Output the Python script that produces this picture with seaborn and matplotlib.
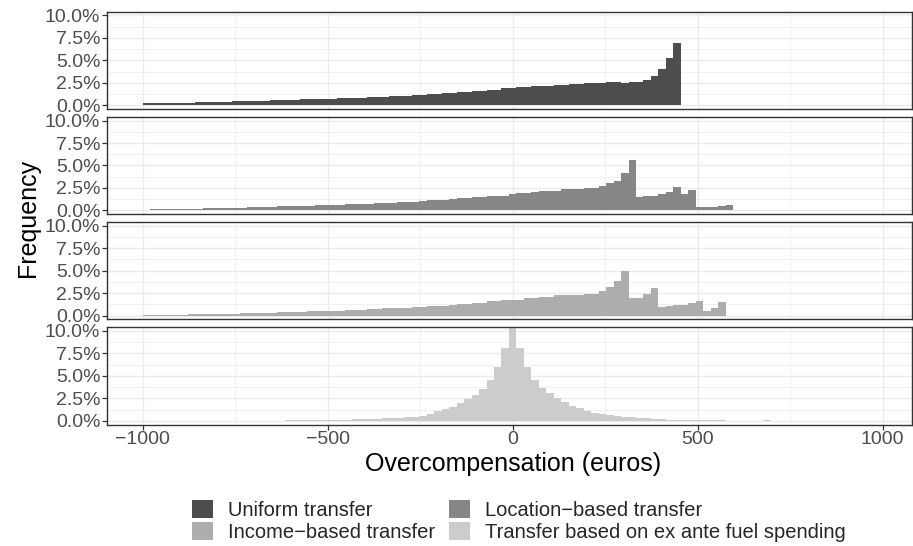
import numpy as np
import pandas as pd
import matplotlib
matplotlib.use("Agg")
import matplotlib.pyplot as plt
import seaborn as sns
from matplotlib.patches import Patch
from matplotlib.ticker import FixedLocator, FuncFormatter

# ---------------- data (percent of households per 20.2-euro bin) ----------------
bin_width = 2000 / 99          # bins centred on multiples of the width, -1000 .. 1000
first_bin = -49                # index of first bin (centre = first_bin * bin_width)

series_names = ["Uniform transfer", "Location\u2212based transfer",
                "Income\u2212based transfer", "Transfer based on ex ante fuel spending"]
series_colors = ["#4D4D4D", "#878787", "#ADADAD", "#CCCCCC"]

uniform = [0.20, 0.21, 0.22, 0.22, 0.23, 0.24,
           0.30, 0.32, 0.33, 0.34, 0.35, 0.36,
           0.44, 0.46, 0.48, 0.50, 0.51, 0.53,
           0.60, 0.62, 0.63, 0.65, 0.66, 0.68, 0.70,
           0.74, 0.76, 0.79, 0.82,
           0.86, 0.88, 0.90, 0.93,
           0.98,
           1.04, 1.07,
           1.15, 1.18, 1.21,
           1.30, 1.33, 1.37,
           1.47, 1.52, 1.56,
           1.63, 1.67, 1.72,
           1.90, 1.95, 1.98, 2.02,
           2.12, 2.15, 2.19,
           2.27, 2.30, 2.34,
           2.41, 2.44, 2.46, 2.49,
           2.55, 2.56, 2.52, 2.53, 2.60,
           2.85, 3.22, 4.07, 5.26, 6.96]

location = [0.10, 0.11, 0.12,
            0.17, 0.18, 0.19, 0.20, 0.21, 0.22,
            0.25, 0.26, 0.27,
            0.32, 0.33, 0.34, 0.36, 0.37,
            0.43, 0.45, 0.46, 0.48,
            0.53, 0.55, 0.57, 0.58,
            0.60, 0.62,
            0.70, 0.72, 0.75, 0.77, 0.79, 0.82,
            0.88, 0.91, 0.95, 0.98,
            1.10, 1.13, 1.17, 1.20, 1.24,
            1.36, 1.40, 1.45, 1.50,
            1.58, 1.62, 1.66,
            1.88, 1.91, 1.94,
            2.08, 2.12, 2.15, 2.18,
            2.36, 2.40, 2.43, 2.46, 2.50,
            2.68, 3.00, 3.29, 4.14, 5.56,
            1.53, 1.64, 1.64, 1.87, 2.00, 2.65, 1.79, 2.24,
            0.38, 0.38, 0.38, 0.49, 0.64]

income = [0.06, 0.07, 0.07, 0.08, 0.09,
          0.13, 0.14, 0.15, 0.15, 0.16, 0.17, 0.18,
          0.24, 0.25, 0.26, 0.27, 0.28,
          0.35, 0.36, 0.37, 0.38, 0.40,
          0.48, 0.50, 0.52, 0.54, 0.56,
          0.63, 0.65, 0.67, 0.69, 0.71,
          0.80, 0.83, 0.86, 0.89, 0.92,
          1.02, 1.05, 1.08, 1.11, 1.15,
          1.28, 1.32, 1.36, 1.41,
          1.62, 1.66, 1.70, 1.74, 1.78,
          1.98, 2.02, 2.05, 2.08,
          2.25, 2.28, 2.31, 2.34, 2.37, 2.40,
          2.76, 3.20, 3.85, 5.00,
          1.94, 1.94, 2.42, 3.10,
          1.00, 1.08, 1.16, 1.23, 1.39, 1.68, 0.56, 0.83, 1.50]

fuel = [0.01, 0.01, 0.01, 0.01, 0.02, 0.02, 0.02, 0.02, 0.02, 0.02,
        0.03, 0.03, 0.03, 0.03, 0.03, 0.03, 0.04, 0.04, 0.04,
        0.06, 0.06, 0.07, 0.07, 0.08, 0.08,
        0.12, 0.13, 0.15, 0.16,
        0.20, 0.22, 0.24,
        0.28, 0.31,
        0.36, 0.40, 0.44,
        0.55, 0.75, 1.08, 1.30, 1.60, 1.95, 2.40, 2.85, 3.60, 4.50, 6.00, 8.10,
        12.00,
        8.10, 6.00, 4.60, 3.70, 3.10, 2.50, 2.05, 1.68, 1.42, 1.15, 0.93, 0.80,
        0.68, 0.58, 0.48, 0.40, 0.33, 0.27, 0.22, 0.17, 0.14, 0.11, 0.09, 0.08,
        0.07, 0.06, 0.05, 0.05, 0.04, 0.04, 0.03, 0.03, 0.03, 0.10, 0.03, 0.02,
        0.02, 0.01, 0.01, 0.01, 0.01, 0.01, 0.01, 0.01, 0.01, 0.01, 0.01, 0.01]

all_series = [uniform, location, income, fuel]

x_ticks = [-1000, -500, 0, 500, 1000]
x_minor = [-750, -250, 250, 750]
y_ticks = [0, 2.5, 5, 7.5, 10]
y_minor = [1.25, 3.75, 6.25, 8.75]

# ---------------- styling ----------------
sns.set_theme(style="white")
plt.rcParams["font.family"] = ["Liberation Sans", "DejaVu Sans"]
plt.rcParams["axes.unicode_minus"] = True

W, H = 913, 546
fig, axes = plt.subplots(4, 1, sharex=True, figsize=(W / 100, H / 100), dpi=100)
fig.subplots_adjust(left=106.5 / W, right=911.5 / W, top=1 - 11.7 / H,
                    bottom=1 - 424.5 / H, hspace=0.083)

bin_lo = (first_bin - 0.5) * bin_width
bin_hi = 49.5 * bin_width
grid_col = "#EBEBEB"
border_col = "#333333"

for i, (ax, vals, col) in enumerate(zip(axes, all_series, series_colors)):
    df = pd.DataFrame({
        "overcomp": (np.arange(len(vals)) + first_bin) * bin_width,
        "pct": np.asarray(vals, dtype=float),
    })
    sns.histplot(data=df, x="overcomp", weights="pct", binwidth=bin_width,
                 binrange=(bin_lo, bin_hi), stat="count", element="step",
                 fill=True, color=col, alpha=1, linewidth=0, ax=ax)
    ax.set_xlim(-1098, 1078)
    ax.set_ylim(-0.4, 10.4)
    ax.set_ylabel("")
    ax.set_xlabel("")
    ax.xaxis.set_major_locator(FixedLocator(x_ticks))
    ax.xaxis.set_minor_locator(FixedLocator(x_minor))
    ax.yaxis.set_major_locator(FixedLocator(y_ticks))
    ax.yaxis.set_minor_locator(FixedLocator(y_minor))
    ax.yaxis.set_major_formatter(FuncFormatter(lambda v, p: f"{v:.1f}%"))
    ax.set_axisbelow(True)
    ax.grid(which="major", color=grid_col, lw=1.0)
    ax.grid(which="minor", color=grid_col, lw=0.5)
    for s in ax.spines.values():
        s.set_visible(True)
        s.set_color(border_col)
        s.set_linewidth(1.0)
    ax.tick_params(axis="y", which="major", length=3.5, width=0.9, color=border_col,
                   labelsize=14, labelcolor="#4D4D4D", pad=1, left=True)
    ax.tick_params(axis="y", which="minor", length=0)
    ax.tick_params(axis="x", which="minor", length=0)
    if i < 3:
        ax.tick_params(axis="x", which="major", length=0)
    else:
        ax.tick_params(axis="x", which="major", length=3.5, width=0.9, color=border_col,
                       labelsize=14, labelcolor="#4D4D4D", pad=1, bottom=True)

fig.text(28 / W, 1 - 218 / H, "Frequency", rotation=90, ha="center", va="center",
         fontsize=18, color="black")
fig.text(513 / W, 1 - 464 / H, "Overcompensation (euros)", ha="center", va="center",
         fontsize=18, color="black")

handles = [Patch(facecolor=c, edgecolor="none", label=n)
           for n, c in zip(series_names, series_colors)]
order = [0, 2, 1, 3]
fig.legend([handles[j] for j in order], [series_names[j] for j in order],
           ncol=2, loc="center", bbox_to_anchor=(519 / W, 1 - 521 / H),
           frameon=False, fontsize=14.5, handlelength=1.05, handleheight=1.0,
           handletextpad=0.75, columnspacing=0.66, labelspacing=0.1, borderpad=0,
           borderaxespad=0)

fig.savefig("out.png", dpi=100)
